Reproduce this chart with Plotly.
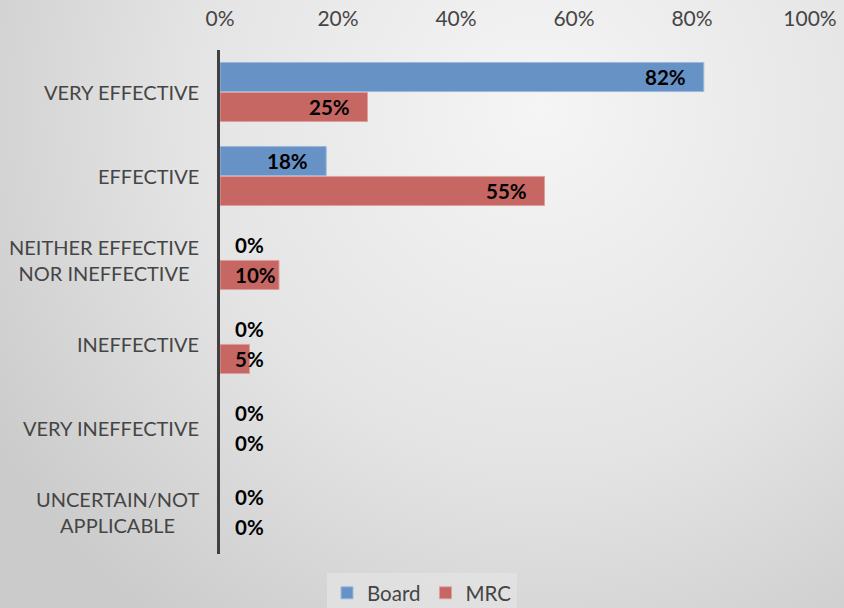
import base64
import plotly.graph_objects as go

# Survey responses, top to bottom
categories = [
    "VERY EFFECTIVE",
    "EFFECTIVE",
    "NEITHER EFFECTIVE<br>NOR INEFFECTIVE",
    "INEFFECTIVE",
    "VERY INEFFECTIVE",
    "UNCERTAIN/NOT<br>APPLICABLE",
]
board = [82, 18, 0, 0, 0, 0]
mrc = [25, 55, 10, 5, 0, 0]
x_ticks = [0, 20, 40, 60, 80, 100]
x_tick_labels = ["0%", "20%", "40%", "60%", "80%", "100%"]

W, H = 844, 608
X0, X1 = 220, 810      # plot area, px
Y0, Y1 = 50, 554
FONT = "Lato"
TEXT_GRAY = "#454545"

BLUE = "#6792C6"
RED = "#C66764"

# soft radial background
svg = f"""<svg xmlns='http://www.w3.org/2000/svg' width='{W}' height='{H}' preserveAspectRatio='none'>
<defs><radialGradient id='g' gradientUnits='userSpaceOnUse' cx='540' cy='110' r='640'>
<stop offset='0' stop-color='#f5f5f5'/><stop offset='0.55' stop-color='#e4e4e4'/>
<stop offset='1' stop-color='#cbcbcb'/></radialGradient></defs>
<rect width='{W}' height='{H}' fill='url(#g)'/></svg>"""
bg_uri = "data:image/svg+xml;base64," + base64.b64encode(svg.encode()).decode()


def edge_widths(vals):
    # no outline on empty bars
    return [1 if v > 0 else 0 for v in vals]


fig = go.Figure()
fig.add_trace(go.Bar(
    y=categories, x=board, name="Board", orientation="h",
    marker=dict(color=BLUE, line=dict(color="#9db8dc", width=edge_widths(board))),
    hoverinfo="skip",
))
fig.add_trace(go.Bar(
    y=categories, x=mrc, name="MRC", orientation="h",
    marker=dict(color=RED, line=dict(color="#dc9f9d", width=edge_widths(mrc))),
    hoverinfo="skip",
))

# value labels: inside the bar end when there is room, else next to the axis
px_per_unit = (X1 - X0) / (x_ticks[-1] - x_ticks[0])
label_w = 42
annotations = []
for vals, shift in ((board, 15), (mrc, -15)):
    for cat, v in zip(categories, vals):
        fits = v * px_per_unit - 16 - label_w >= 14
        annotations.append(dict(
            x=v if fits else 0, y=cat, xref="x", yref="y",
            text=f"<b>{v}%</b>", showarrow=False,
            xanchor="right" if fits else "left",
            xshift=-16 if fits else 13, yshift=shift,
            font=dict(family=FONT, size=20.5, color="black"),
        ))

# category labels, lines centred on each other
for cat in categories:
    annotations.append(dict(
        x=X0 / W, y=cat, xref="paper", yref="y", text=cat,
        showarrow=False, xanchor="right", align="center",
        xshift=-19, font=dict(family=FONT, size=20, color=TEXT_GRAY),
    ))

fig.update_layout(
    width=W, height=H,
    margin=dict(l=0, r=0, t=0, b=0, autoexpand=False),
    paper_bgcolor="#dedede", plot_bgcolor="rgba(0,0,0,0)",
    barmode="group", bargap=0.286, bargroupgap=0.03,
    images=[dict(source=bg_uri, xref="paper", yref="paper", x=0, y=1,
                 sizex=1, sizey=1, sizing="stretch", layer="below")],
    xaxis=dict(
        domain=[X0 / W, X1 / W], range=[0, 100], side="top",
        tickvals=x_ticks, ticktext=x_tick_labels, showgrid=False,
        zeroline=False, showline=False, ticks="", ticklabelstandoff=19,
        tickfont=dict(family=FONT, size=21, color=TEXT_GRAY),
        fixedrange=True,
    ),
    yaxis=dict(
        domain=[1 - Y1 / H, 1 - Y0 / H], categoryorder="array",
        categoryarray=categories, range=[len(categories) - 0.5, -0.5],
        showticklabels=False, showgrid=False, zeroline=False,
        showline=True, linecolor="#404040", linewidth=3, ticks="",
        fixedrange=True,
    ),
    legend=dict(
        orientation="h", x=0.5, xanchor="center", y=1 - 573 / H,
        yanchor="top", bgcolor="rgba(226,226,226,0.85)",
        font=dict(family=FONT, size=20.5, color=TEXT_GRAY),
        itemclick=False, itemdoubleclick=False,
    ),
    annotations=annotations,
    showlegend=True,
)

fig.write_html("out.html")
